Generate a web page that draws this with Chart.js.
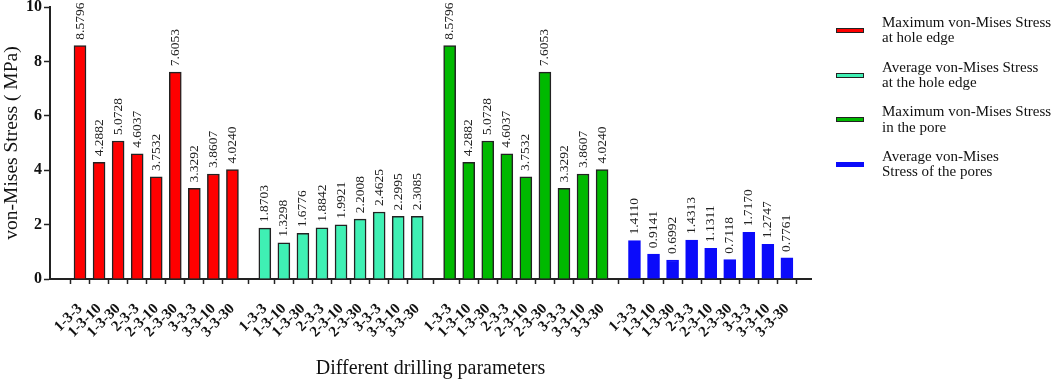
<!DOCTYPE html>
<html>
<head>
<meta charset="utf-8">
<script src="https://cdn.jsdelivr.net/npm/chart.js@4.4.0/dist/chart.umd.min.js"></script>
<style>
    html, body { margin: 0; padding: 0; background: #fff; }
    #wrap { position: relative; width: 1052px; height: 382px; }
    #legend {
        position: absolute; left: 836px; top: 8px;
        font-family: "Liberation Serif", "Times New Roman", serif;
        font-size: 15px; color: #111; white-space: nowrap;
    }
    .item { display: flex; align-items: center; height: 44.7px; }
    .swatch { width: 28px; height: 5px; margin-right: 18px; box-sizing: border-box; flex: none; }
    .txt { line-height: 15.5px; }
</style>
</head>
<body>
<div id="wrap">
    <canvas id="stressChart" width="1052" height="382"></canvas>
    <div id="legend"></div>
</div>
<script>
const categories = ["1-3-3", "1-3-10", "1-3-30", "2-3-3", "2-3-10", "2-3-30", "3-3-3", "3-3-10", "3-3-30"];
const maxHoleEdge = [8.5796, 4.2882, 5.0728, 4.6037, 3.7532, 7.6053, 3.3292, 3.8607, 4.0240];
const avgHoleEdge = [1.8703, 1.3298, 1.6776, 1.8842, 1.9921, 2.2008, 2.4625, 2.2995, 2.3085];
const maxPore     = [8.5796, 4.2882, 5.0728, 4.6037, 3.7532, 7.6053, 3.3292, 3.8607, 4.0240];
const avgPore     = [1.4110, 0.9141, 0.6992, 1.4313, 1.1311, 0.7118, 1.7170, 1.2747, 0.7761];
const seriesNames = [
    ["Maximum von-Mises Stress", "at hole edge"],
    ["Average von-Mises Stress", "at the hole edge"],
    ["Maximum von-Mises Stress", "in the pore"],
    ["Average von-Mises", "Stress of the pores"]
];
const yTicks = [0, 2, 4, 6, 8, 10];

const FONT = '"Liberation Serif", "Times New Roman", serif';
const colors = ["#ff0000", "#3ff0b4", "#00b900", "#0b0bfa"];
const borders = ["#222", "#222", "#222", "#0b0bfa"];
const GROUP_STEP = 9.7; // group spacing in bar slots (gap between groups)

const allSeries = [maxHoleEdge, avgHoleEdge, maxPore, avgPore];
const tickPositions = [];
allSeries.forEach((_, g) => categories.forEach((_, i) => tickPositions.push(g * GROUP_STEP + i)));

const datasets = allSeries.map((vals, g) => ({
    label: seriesNames[g].join(" "),
    data: vals.map((v, i) => ({ x: g * GROUP_STEP + i, y: v })),
    backgroundColor: colors[g],
    borderColor: borders[g],
    borderWidth: 1.5,
    barThickness: 12,
    grouped: false
}));

// value labels above each bar, rotated
const valueLabels = {
    id: "valueLabels",
    afterDatasetsDraw(chart) {
        const ctx = chart.ctx;
        ctx.save();
        ctx.font = `13.5px ${FONT}`;
        ctx.fillStyle = "#222";
        ctx.textAlign = "left";
        ctx.textBaseline = "middle";
        chart.data.datasets.forEach((ds, di) => {
            chart.getDatasetMeta(di).data.forEach((bar, i) => {
                ctx.save();
                ctx.translate(bar.x, bar.y - 6);
                ctx.rotate(-Math.PI / 2);
                ctx.fillText(ds.data[i].y.toFixed(4), 0, 0);
                ctx.restore();
            });
        });
        ctx.restore();
    }
};

new Chart(document.getElementById("stressChart").getContext("2d"), {
    type: "bar",
    data: { datasets },
    options: {
        responsive: false,
        animation: false,
        layout: { padding: { top: 7, right: 241, left: 0, bottom: 0 } },
        plugins: {
            legend: { display: false },
            tooltip: { enabled: false }
        },
        scales: {
            x: {
                type: "linear",
                min: -1.02,
                max: 37.81,
                afterBuildTicks: scale => { scale.ticks = tickPositions.map(v => ({ value: v })); },
                afterFit: scale => {
                    scale.height = 103;
                    scale.paddingLeft = 0; scale.paddingRight = 0;
                },
                ticks: {
                    autoSkip: false,
                    minRotation: 45,
                    maxRotation: 45,
                    padding: 16,
                    color: "#111",
                    font: { family: FONT, size: 15, weight: "bold" },
                    callback: (v, i) => categories[i % categories.length]
                },
                grid: { drawOnChartArea: false, tickLength: 5, tickColor: "#222", tickWidth: 1.5 },
                border: { display: true, color: "#222", width: 2 },
                title: {
                    display: true,
                    text: "Different drilling parameters",
                    color: "#111",
                    font: { family: FONT, size: 20 },
                    padding: { top: 0, bottom: 1 }
                }
            },
            y: {
                min: 0,
                max: 10,
                afterBuildTicks: scale => { scale.ticks = yTicks.map(v => ({ value: v })); },
                afterFit: scale => {
                    scale.width = 50;
                    scale.paddingTop = 0; scale.paddingBottom = 0;
                },
                ticks: {
                    padding: 2,
                    color: "#111",
                    font: { family: FONT, size: 16, weight: "bold" }
                },
                grid: { drawOnChartArea: false, tickLength: 6, tickColor: "#222", tickWidth: 1.5 },
                border: { display: true, color: "#222", width: 2 },
                title: {
                    display: true,
                    text: "von-Mises Stress ( MPa)",
                    color: "#111",
                    font: { family: FONT, size: 19.5 },
                    padding: 0
                }
            }
        }
    },
    plugins: [valueLabels]
});

// two-line legend on the right
const legendEl = document.getElementById("legend");
seriesNames.forEach((lines, g) => {
    const item = document.createElement("div");
    item.className = "item";
    const sw = document.createElement("div");
    sw.className = "swatch";
    sw.style.background = colors[g];
    sw.style.border = `1.5px solid ${borders[g]}`;
    const txt = document.createElement("div");
    txt.className = "txt";
    txt.innerHTML = lines.join("<br>");
    item.appendChild(sw);
    item.appendChild(txt);
    legendEl.appendChild(item);
});
</script>
</body>
</html>
